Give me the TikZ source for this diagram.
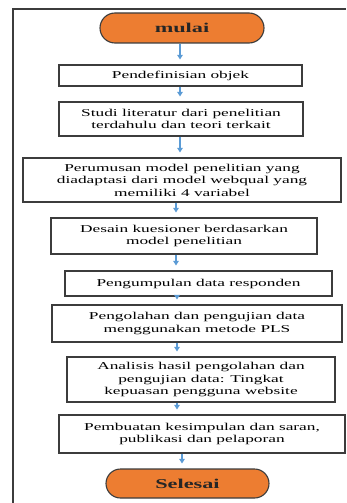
\documentclass[tikz,border=0pt]{standalone}
\usepackage{fontspec}
\setmainfont{Liberation Serif}[FakeStretch=1.65]
\usepackage{xcolor}
\usepackage{tikz}
\usetikzlibrary{arrows.meta, calc, shapes.misc}
\definecolor{flowOrange}{RGB}{237,125,49}
\definecolor{flowBlue}{RGB}{91,155,213}
\definecolor{flowLine}{RGB}{60,60,60}
\tikzset{
  langkah/.style={draw=flowLine, line width=1.1pt, fill=white, inner sep=0pt,
    align=center, text=black, font=\fontsize{10.5}{12.5}\selectfont},
  terminal/.style={rounded rectangle, draw=flowLine, line width=1.1pt, fill=flowOrange,
    inner sep=0pt, text=black!85, font=\fontsize{13.5}{15}\selectfont\bfseries},
  alur/.style={draw=flowBlue, line width=1.2pt, -{Triangle[width=5.5pt,length=4.5pt]}, shorten >=5pt}
}

\begin{document}
\begin{tikzpicture}[x=1pt, y=-1pt]
  \useasboundingbox (0,0) rectangle (346,503);
  % bingkai
  \draw[flowLine, line width=1.2pt] (13,503) -- (13,9) -- (346,9);
  % langkah penelitian
  \node[terminal, minimum width=164pt, minimum height=30pt] (mulai) at (182,28) {mulai};
  \node[langkah, minimum width=243pt, minimum height=21pt] (objek) at (180.5,75.5) {Pendefinisian objek};
  \node[langkah, minimum width=244pt, minimum height=34pt] (studi) at (181,119) {Studi literatur dari penelitian\\terdahulu dan teori terkait};
  \node[langkah, minimum width=318pt, minimum height=44pt] (rumus) at (182,180) {Perumusan model penelitian yang\\diadaptasi dari model webqual yang\\memiliki 4 variabel};
  \node[langkah, minimum width=266pt, minimum height=36pt] (desain) at (184,236) {Desain kuesioner berdasarkan\\model penelitian};
  \node[langkah, minimum width=267pt, minimum height=25pt] (kumpul) at (198.5,283.5) {Pengumpulan data responden};
  \node[langkah, minimum width=290pt, minimum height=37pt] (olah) at (197,323.5) {Pengolahan dan pengujian data\\menggunakan metode PLS};
  \node[langkah, minimum width=268pt, minimum height=45pt] (analisis) at (201,379.5) {Analisis hasil pengolahan dan\\pengujian data: Tingkat\\kepuasan pengguna website};
  \node[langkah, minimum width=286pt, minimum height=38pt] (simpul) at (202,434) {Pembuatan kesimpulan dan saran,\\publikasi dan pelaporan};
  \node[terminal, minimum width=163pt, minimum height=29pt] (selesai) at (187.5,483.5) {Selesai};
  % panah
  \foreach \a/\b/\x in {mulai/objek/180, objek/studi/180, studi/rumus/180, rumus/desain/176,
      desain/kumpul/176, kumpul/olah/177, olah/analisis/177, analisis/simpul/177, simpul/selesai/182} {
    \coordinate (ax) at (\x,0);
    \draw[alur] (\a.south -| ax) -- (\b.north -| ax);
  }
\end{tikzpicture}
\end{document}
